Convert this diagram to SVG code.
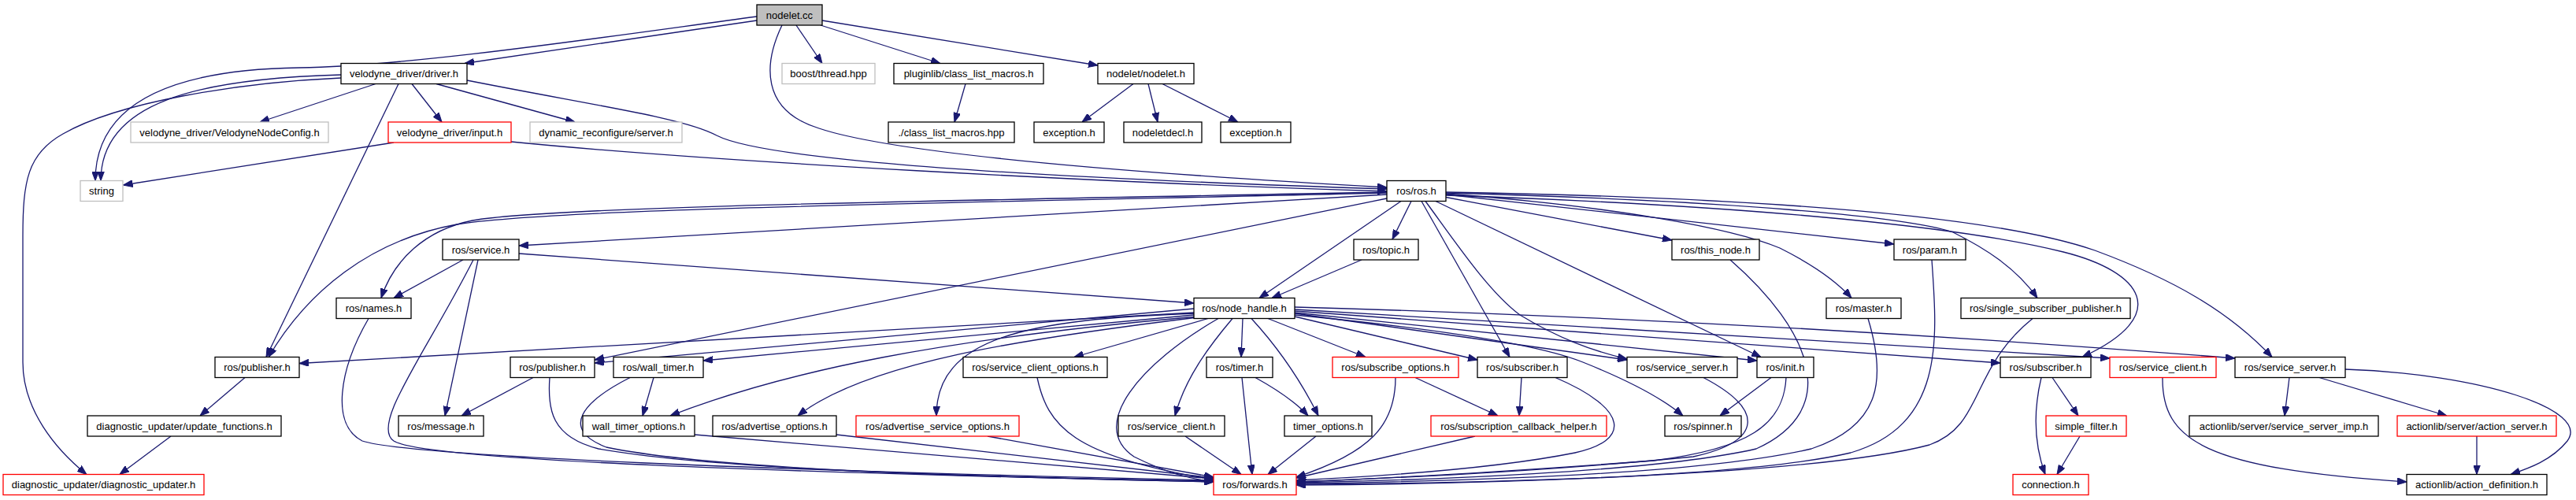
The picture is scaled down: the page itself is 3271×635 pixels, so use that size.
<svg xmlns="http://www.w3.org/2000/svg" width="3271" height="635" viewBox="0 0 3271 635">
<defs>
<marker id="a" viewBox="0 0 12 9" refX="12" refY="4.5" markerWidth="12" markerHeight="9" markerUnits="userSpaceOnUse" orient="auto"><path d="M0,0 L12,4.5 L0,9 z" fill="#191970" stroke="#191970" stroke-width="1"/></marker>
<style>
.n rect{fill:#fff;stroke:#000;stroke-width:1.3}
.n.g rect{stroke:#bfbfbf}
.n.r rect{stroke:#f00}
.n.c rect{fill:#bfbfbf}
.n text{font-family:"Liberation Sans",Arial,sans-serif;font-size:13px;text-anchor:middle;fill:#000}
#edges path{fill:none;stroke:#191970;stroke-width:1.3;marker-end:url(#a)}
</style>
</defs>
<rect width="3271" height="635" fill="#fff"/>
<g id="edges">
<path d="M961,26 L590,80.5"/>
<path d="M961,21 C760,48 520,84 380,86 C240,88 121,120 121,229.5"/>
<path d="M433,95 C250,100 128,130 128,229.5"/>
<path d="M433,99 C300,105 150,130 80,170 C35,195 29,230 29,300 L29,460 C29,520 70,570 110,602.5"/>
<path d="M477,106.5 L330,155"/>
<path d="M523,106.5 L561,155"/>
<path d="M554,106.5 L730,155"/>
<path d="M506,106.5 L338,453.5"/>
<path d="M593,102 C760,135 870,150 910,172 C960,198 1200,222 1761,240"/>
<path d="M993,32 C970,80 965,140 1040,163 C1120,190 1350,215 1761,238"/>
<path d="M649,180 C900,205 1400,232 1761,243"/>
<path d="M500,181 L156.5,235"/>
<path d="M1011,32 L1044,80.5"/>
<path d="M1042,32 L1194,80.5"/>
<path d="M1044,26 L1394,83"/>
<path d="M1226,106.5 L1212,155"/>
<path d="M1439,106.5 L1374,155"/>
<path d="M1458,106.5 L1470,155"/>
<path d="M1476,106.5 L1572,155"/>
<path d="M1761,247 L659,312"/>
<path d="M1761,244 C1200,255 700,262 600,280 C540,292 500,330 484,378.5"/>
<path d="M1761,245 C1200,258 700,265 580,285 C470,305 390,370 341,453.5"/>
<path d="M1761,252 L755,457"/>
<path d="M1779,255.5 L1599,378.5"/>
<path d="M1792,255.5 L1768,304"/>
<path d="M1729,330 L1615,378.5"/>
<path d="M1805,255.5 L1917,453.5"/>
<path d="M1810,255.5 C1850,310 1890,370 1930,400 C1980,430 2020,445 2066,456"/>
<path d="M1823,255.5 L2236,453.5"/>
<path d="M1836,250.5 L2123,305"/>
<path d="M1836,247 L2405,310"/>
<path d="M1836,246 C2050,262 2200,290 2260,315 C2300,335 2330,355 2351,378.5"/>
<path d="M1836,245 C2200,255 2420,275 2480,295 C2520,315 2560,340 2587,378.5"/>
<path d="M1836,248 C2250,262 2500,290 2620,320 C2720,345 2760,400 2644,453.5"/>
<path d="M1836,244 C2300,252 2550,280 2660,318 C2760,355 2830,395 2885,453.5"/>
<path d="M588,330 L500,378.5"/>
<path d="M607,330 L565,528"/>
<path d="M601,330 C540,450 470,540 500,560 C540,585 1000,600 1541,612"/>
<path d="M659,322 L1516,385"/>
<path d="M468,404.5 C430,470 420,540 460,560 C520,580 1000,598 1541,610"/>
<path d="M311,479.5 L254,528"/>
<path d="M217,554 L152,602.5"/>
<path d="M677,479.5 L586,528"/>
<path d="M698,479.5 C695,520 700,555 760,570 C900,595 1200,605 1541,611"/>
<path d="M830,479.5 L816,528"/>
<path d="M800,479.5 C740,510 710,545 770,568 C900,595 1200,605 1541,612"/>
<path d="M1516,397 L380,461.5"/>
<path d="M1516,392 L755,461"/>
<path d="M1516,400 L893,458"/>
<path d="M1521,402 C1200,430 1000,470 851,528"/>
<path d="M1521,403 C1300,430 1100,460 1013,528"/>
<path d="M1521,398 C1300,405 1189,430 1189,528"/>
<path d="M1534,404.5 L1364,453.5"/>
<path d="M1578,404.5 L1576,453.5"/>
<path d="M1565,404.5 C1535,440 1505,480 1492,528"/>
<path d="M1547,404.5 C1450,460 1380,540 1440,580 C1480,600 1510,608 1541,612"/>
<path d="M1589,404.5 Q1640,460 1674,528"/>
<path d="M1594,479.5 Q1640,505 1661,528"/>
<path d="M1577,479.5 L1590,602.5"/>
<path d="M1505,554 L1576,602.5"/>
<path d="M1671,554 L1610,602.5"/>
<path d="M1317,479.5 C1330,540 1360,580 1541,609"/>
<path d="M1254,554 L1541,606"/>
<path d="M1062,552 L1541,607"/>
<path d="M882,552 L1541,608"/>
<path d="M1610,404.5 L1734,453.5"/>
<path d="M1644,402 L1876,457"/>
<path d="M1644,398 L2066,457"/>
<path d="M1644,397 L2231,458"/>
<path d="M1644,400 C1850,420 1960,440 2010,460 C2060,480 2110,505 2137,528"/>
<path d="M1644,395 L2540,461"/>
<path d="M1644,393 L2679,455"/>
<path d="M1644,390 C2000,400 2400,420 2838,455"/>
<path d="M2249,479.5 L2184,528"/>
<path d="M2268,479.5 C2265,540 2220,570 2100,585 C1900,600 1750,608 1646,612"/>
<path d="M2163,479.5 C2240,520 2240,560 2150,580 C1950,600 1750,608 1646,612"/>
<path d="M1975,479.5 C2070,520 2070,560 2000,575 C1900,595 1750,605 1646,610"/>
<path d="M1932,479.5 L1929,528"/>
<path d="M1797,479.5 L1902,528"/>
<path d="M1772,479.5 C1772,540 1740,575 1646,606"/>
<path d="M1873,554 L1646,607"/>
<path d="M2197,330 C2300,420 2340,520 2230,570 C2100,600 1800,610 1646,613"/>
<path d="M2372,404.5 C2395,480 2390,540 2300,570 C2150,605 1800,612 1646,614"/>
<path d="M2453,330 C2460,430 2470,540 2350,575 C2200,610 1800,614 1646,615"/>
<path d="M2581,404.5 C2500,470 2520,540 2450,565 C2300,605 1850,615 1646,616"/>
<path d="M2592,479.5 C2580,530 2585,570 2597,602.5"/>
<path d="M2606,479.5 L2639,528"/>
<path d="M2641,554 L2612,602.5"/>
<path d="M2746,479.5 C2745,560 2800,595 3056,612"/>
<path d="M2907,479.5 L2901,528"/>
<path d="M2945,479.5 L3107,528"/>
<path d="M2978,469 C3150,475 3290,520 3260,560 C3240,585 3210,595 3188,602.5"/>
<path d="M3145,554 L3145,602.5"/>
</g>
<g id="n0" class="n c"><rect x="961" y="6" width="83" height="26"/><text x="1002.5" y="23.5">nodelet.cc</text></g>
<g id="n1" class="n"><rect x="433" y="80.5" width="160" height="26"/><text x="513" y="98">velodyne_driver/driver.h</text></g>
<g id="n2" class="n g"><rect x="993" y="80.5" width="118" height="26"/><text x="1052" y="98">boost/thread.hpp</text></g>
<g id="n3" class="n"><rect x="1135" y="80.5" width="190" height="26"/><text x="1230" y="98">pluginlib/class_list_macros.h</text></g>
<g id="n4" class="n"><rect x="1394" y="80.5" width="122" height="26"/><text x="1455" y="98">nodelet/nodelet.h</text></g>
<g id="n5" class="n g"><rect x="166" y="155" width="251" height="26"/><text x="291.5" y="172.5">velodyne_driver/VelodyneNodeConfig.h</text></g>
<g id="n6" class="n r"><rect x="493" y="155" width="156" height="26"/><text x="571" y="172.5">velodyne_driver/input.h</text></g>
<g id="n7" class="n g"><rect x="673" y="155" width="193" height="26"/><text x="769.5" y="172.5">dynamic_reconfigure/server.h</text></g>
<g id="n8" class="n"><rect x="1128" y="155" width="160" height="26"/><text x="1208" y="172.5">./class_list_macros.hpp</text></g>
<g id="n9" class="n"><rect x="1313" y="155" width="89" height="26"/><text x="1357.5" y="172.5">exception.h</text></g>
<g id="n10" class="n"><rect x="1427" y="155" width="99" height="26"/><text x="1476.5" y="172.5">nodeletdecl.h</text></g>
<g id="n11" class="n"><rect x="1550" y="155" width="89" height="26"/><text x="1594.5" y="172.5">exception.h</text></g>
<g id="n12" class="n g"><rect x="102" y="229.5" width="54" height="26"/><text x="129" y="247">string</text></g>
<g id="n13" class="n"><rect x="1761" y="229.5" width="75" height="26"/><text x="1798.5" y="247">ros/ros.h</text></g>
<g id="n14" class="n"><rect x="562" y="304" width="97" height="26"/><text x="610.5" y="321.5">ros/service.h</text></g>
<g id="n15" class="n"><rect x="1719" y="304" width="82" height="26"/><text x="1760" y="321.5">ros/topic.h</text></g>
<g id="n16" class="n"><rect x="2123" y="304" width="111" height="26"/><text x="2178.5" y="321.5">ros/this_node.h</text></g>
<g id="n17" class="n"><rect x="2405" y="304" width="91" height="26"/><text x="2450.5" y="321.5">ros/param.h</text></g>
<g id="n18" class="n"><rect x="427" y="378.5" width="95" height="26"/><text x="474.5" y="396">ros/names.h</text></g>
<g id="n19" class="n"><rect x="1516" y="378.5" width="128" height="26"/><text x="1580" y="396">ros/node_handle.h</text></g>
<g id="n20" class="n"><rect x="2319" y="378.5" width="95" height="26"/><text x="2366.5" y="396">ros/master.h</text></g>
<g id="n21" class="n"><rect x="2490" y="378.5" width="215" height="26"/><text x="2597.5" y="396">ros/single_subscriber_publisher.h</text></g>
<g id="n22" class="n"><rect x="273" y="453.5" width="107" height="26"/><text x="326.5" y="471">ros/publisher.h</text></g>
<g id="n23" class="n"><rect x="648" y="453.5" width="107" height="26"/><text x="701.5" y="471">ros/publisher.h</text></g>
<g id="n24" class="n"><rect x="779" y="453.5" width="114" height="26"/><text x="836" y="471">ros/wall_timer.h</text></g>
<g id="n25" class="n"><rect x="1223" y="453.5" width="183" height="26"/><text x="1314.5" y="471">ros/service_client_options.h</text></g>
<g id="n26" class="n"><rect x="1532" y="453.5" width="84" height="26"/><text x="1574" y="471">ros/timer.h</text></g>
<g id="n27" class="n r"><rect x="1692" y="453.5" width="160" height="26"/><text x="1772" y="471">ros/subscribe_options.h</text></g>
<g id="n28" class="n"><rect x="1876" y="453.5" width="114" height="26"/><text x="1933" y="471">ros/subscriber.h</text></g>
<g id="n29" class="n"><rect x="2066" y="453.5" width="140" height="26"/><text x="2136" y="471">ros/service_server.h</text></g>
<g id="n30" class="n"><rect x="2231" y="453.5" width="72" height="26"/><text x="2267" y="471">ros/init.h</text></g>
<g id="n31" class="n"><rect x="2540" y="453.5" width="115" height="26"/><text x="2597.5" y="471">ros/subscriber.h</text></g>
<g id="n32" class="n r"><rect x="2679" y="453.5" width="135" height="26"/><text x="2746.5" y="471">ros/service_client.h</text></g>
<g id="n33" class="n"><rect x="2838" y="453.5" width="140" height="26"/><text x="2908" y="471">ros/service_server.h</text></g>
<g id="n34" class="n"><rect x="111" y="528" width="246" height="26"/><text x="234" y="545.5">diagnostic_updater/update_functions.h</text></g>
<g id="n35" class="n"><rect x="506" y="528" width="108" height="26"/><text x="560" y="545.5">ros/message.h</text></g>
<g id="n36" class="n"><rect x="740" y="528" width="142" height="26"/><text x="811" y="545.5">wall_timer_options.h</text></g>
<g id="n37" class="n"><rect x="905" y="528" width="157" height="26"/><text x="983.5" y="545.5">ros/advertise_options.h</text></g>
<g id="n38" class="n r"><rect x="1087" y="528" width="207" height="26"/><text x="1190.5" y="545.5">ros/advertise_service_options.h</text></g>
<g id="n39" class="n"><rect x="1420" y="528" width="135" height="26"/><text x="1487.5" y="545.5">ros/service_client.h</text></g>
<g id="n40" class="n"><rect x="1631" y="528" width="111" height="26"/><text x="1686.5" y="545.5">timer_options.h</text></g>
<g id="n41" class="n r"><rect x="1817" y="528" width="223" height="26"/><text x="1928.5" y="545.5">ros/subscription_callback_helper.h</text></g>
<g id="n42" class="n"><rect x="2114" y="528" width="97" height="26"/><text x="2162.5" y="545.5">ros/spinner.h</text></g>
<g id="n43" class="n r"><rect x="2598" y="528" width="102" height="26"/><text x="2649" y="545.5">simple_filter.h</text></g>
<g id="n44" class="n"><rect x="2780" y="528" width="240" height="26"/><text x="2900" y="545.5">actionlib/server/service_server_imp.h</text></g>
<g id="n45" class="n r"><rect x="3044" y="528" width="202" height="26"/><text x="3145" y="545.5">actionlib/server/action_server.h</text></g>
<g id="n46" class="n r"><rect x="4" y="602.5" width="255" height="26"/><text x="131.5" y="620">diagnostic_updater/diagnostic_updater.h</text></g>
<g id="n47" class="n r"><rect x="1541" y="602.5" width="105" height="26"/><text x="1593.5" y="620">ros/forwards.h</text></g>
<g id="n48" class="n r"><rect x="2556" y="602.5" width="96" height="26"/><text x="2604" y="620">connection.h</text></g>
<g id="n49" class="n"><rect x="3056" y="602.5" width="178" height="26"/><text x="3145" y="620">actionlib/action_definition.h</text></g>
</svg>
